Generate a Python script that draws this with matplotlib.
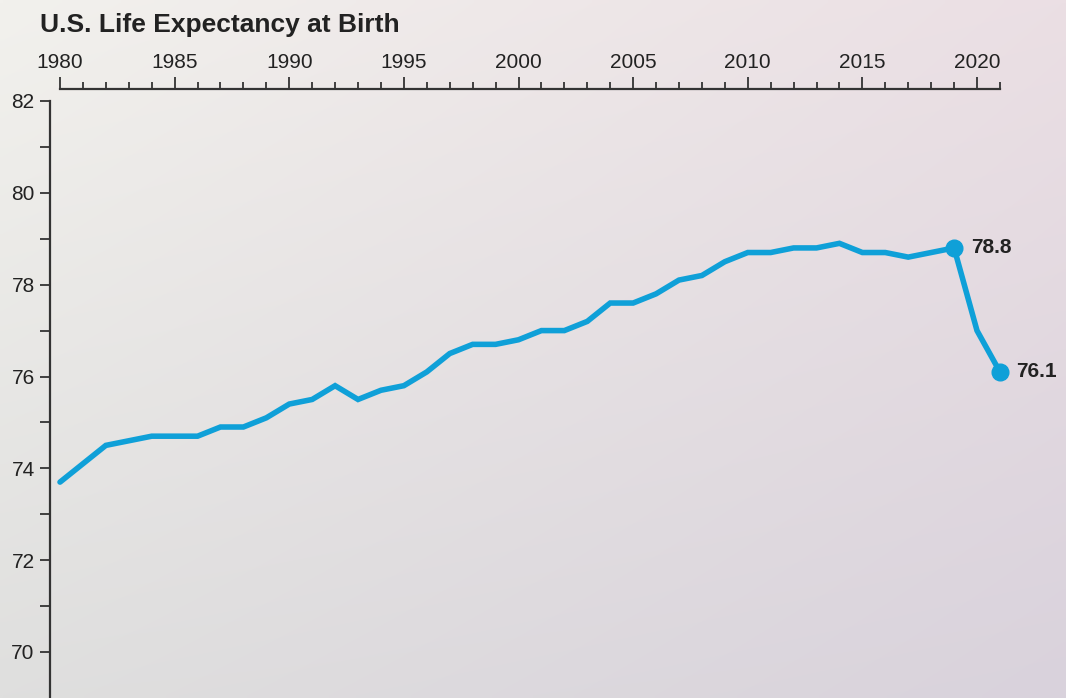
import matplotlib.pyplot as plt
import numpy as np
from matplotlib.ticker import MultipleLocator

years = list(range(1980, 2022))
life_exp = [73.7, 74.1, 74.5, 74.6, 74.7, 74.7, 74.7, 74.9, 74.9, 75.1,
            75.4, 75.5, 75.8, 75.5, 75.7, 75.8, 76.1, 76.5, 76.7, 76.7,
            76.8, 77.0, 77.0, 77.2, 77.6, 77.6, 77.8, 78.1, 78.2, 78.5,
            78.7, 78.7, 78.8, 78.8, 78.9, 78.7, 78.7, 78.6, 78.7, 78.8,
            77.0, 76.1]
highlight_years = [2019, 2021]
highlight_labels = ["78.8", "76.1"]

line_color = '#0fa0d8'
text_color = '#222222'
plt.rcParams['font.family'] = ['Liberation Sans', 'DejaVu Sans']

W, H = 1066, 698
fig = plt.figure(figsize=(W / 100, H / 100), dpi=100)

# background gradient (four corner colours, bilinear)
bg = fig.add_axes([0, 0, 1, 1], zorder=-10)
corners = np.array([[[0xf2, 0xf1, 0xed], [0xeb, 0xdf, 0xe4]],
                    [[0xdf, 0xdf, 0xde], [0xd9, 0xd2, 0xdc]]]) / 255.0
u = np.linspace(0, 1, 200)[None, :, None]
v = np.linspace(0, 1, 130)[:, None, None]
grad = ((1 - v) * ((1 - u) * corners[0, 0] + u * corners[0, 1])
        + v * ((1 - u) * corners[1, 0] + u * corners[1, 1]))
bg.imshow(grad, aspect='auto', extent=[0, 1, 0, 1], interpolation='bilinear')
bg.axis('off')

# axes placed in pixels: left spine at x=50, top spine at y=89
left_px, top_px = 50, 89
ax = fig.add_axes([left_px / W, 0, 1 - left_px / W, 1 - top_px / H])
ax.patch.set_alpha(0)

px_per_year = (977 - 60) / 40
px_per_unit = (652 - 101) / 12
ax.set_xlim(1980 - 10 / px_per_year, 1980 + (W - 60) / px_per_year)
ax.set_ylim(82 - (H - 101) / px_per_unit, 82 + (101 - top_px) / px_per_unit)

ax.plot(years, life_exp, color=line_color, lw=4, solid_joinstyle='miter',
        solid_capstyle='round', zorder=3)
for yr, lab in zip(highlight_years, highlight_labels):
    val = life_exp[years.index(yr)]
    ax.plot(yr, val, 'o', color=line_color, ms=12, zorder=4)
    ax.annotate(lab, (yr, val), xytext=(12, 0), textcoords='offset points',
                va='center', ha='left', fontsize=15, fontweight='bold',
                color=text_color)

# spines
for s in ['right', 'bottom']:
    ax.spines[s].set_visible(False)
ax.spines['top'].set_bounds(1980, 2021)
ax.spines['left'].set_bounds(ax.get_ylim()[0], 82)
for s in ['top', 'left']:
    ax.spines[s].set_color('#333333')
    ax.spines[s].set_linewidth(1.6)

ax.xaxis.tick_top()
ax.set_xticks(range(1980, 2021, 5))
ax.set_xticks(list(range(1980, 2022)), minor=True)
ax.tick_params(axis='x', which='major', length=8.5, width=1.3, colors='#333333',
               labelsize=15, labelcolor=text_color, pad=4)
ax.tick_params(axis='x', which='minor', length=5, width=1.3, colors='#333333')

ax.set_yticks(range(70, 83, 2))
ax.set_yticks(range(70, 83), minor=True)
ax.tick_params(axis='y', which='both', length=7, width=1.3, colors='#333333',
               labelsize=15, labelcolor=text_color, pad=4)

fig.text(40 / W, 1 - 32 / H, "U.S. Life Expectancy at Birth", fontsize=19,
         fontweight='bold', color=text_color, ha='left', va='baseline')

fig.savefig('out.png', dpi=100)
